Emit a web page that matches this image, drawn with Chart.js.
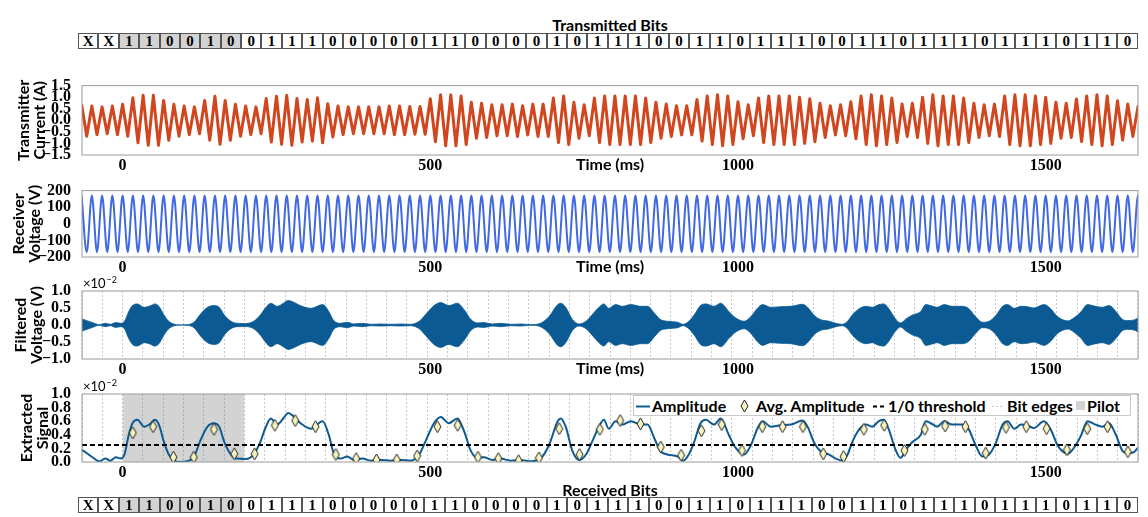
<!DOCTYPE html>
<html>
<head>
<meta charset="utf-8">
<title>Transmitted and received bits</title>
<script src="https://cdn.jsdelivr.net/npm/chart.js@4.4.1/dist/chart.umd.min.js"></script>
<style>
  body { margin: 0; background: #fff; }
  #page { position: relative; width: 1148px; height: 517px; overflow: hidden; }
  .title { position: absolute; left: 82px; width: 1056px; text-align: center;
           font: bold 16px Lato, sans-serif; line-height: 16px; color: #000; }
  table.bits { position: absolute; left: 78px; width: 1060px; height: 16px;
               border-collapse: separate; border-spacing: 0; table-layout: fixed; }
  table.bits td { border: 1px solid #555; padding: 0; text-align: center;
                  font: bold 15px "Liberation Serif", serif; line-height: 14px; color: #000; }
  table.bits td.pilot { background: #d3d3d3; }
  canvas { position: absolute; left: 0; }
  #legend { position: absolute; left: 633px; top: 395px; width: 496px; height: 19px;
            border: 1px solid #c8c8c8; background: #fff; font: bold 16px Lato, sans-serif; }
  #legend span, #legend svg { position: absolute; }
  #legend span { top: 1px; line-height: 17px; }
</style>
</head>
<body>
<div id="page">
  <div class="title" style="top:17px">Transmitted Bits</div>
  <table class="bits" id="tx-bits" style="top:33px"></table>

  <canvas id="chart-current" width="1148" height="104" style="top:73px"></canvas>
  <canvas id="chart-receiver" width="1148" height="101" style="top:178px"></canvas>
  <canvas id="chart-filtered" width="1148" height="107" style="top:274px"></canvas>
  <canvas id="chart-extracted" width="1148" height="107" style="top:377px"></canvas>

  <div id="legend">
    <svg style="left:2px;top:9px" width="14" height="3"><line x1="0" y1="1.5" x2="14" y2="1.5" stroke="#0b5a93" stroke-width="2"/></svg>
    <span style="left:18px">Amplitude</span>
    <svg style="left:106px;top:3px" width="9" height="14"><polygon points="4.5,1 8,7 4.5,13 1,7" fill="#f7f3bd" stroke="#222" stroke-width="1"/></svg>
    <span style="left:122px">Avg. Amplitude</span>
    <svg style="left:239px;top:9px" width="12" height="3"><line x1="0" y1="1.5" x2="12" y2="1.5" stroke="#000" stroke-width="2" stroke-dasharray="4,3"/></svg>
    <span style="left:254px">1/0 threshold</span>
    <svg style="left:358px;top:9px" width="12" height="3"><line x1="0" y1="1.5" x2="12" y2="1.5" stroke="#c8c8c8" stroke-width="1" stroke-dasharray="2,2"/></svg>
    <span style="left:373px">Bit edges</span>
    <svg style="left:442px;top:5px" width="9" height="9"><rect x="0" y="0" width="9" height="9" fill="#d3d3d3"/></svg>
    <span style="left:453px">Pilot</span>
  </div>

  <div class="title" style="top:482px">Received Bits</div>
  <table class="bits" id="rx-bits" style="top:497px"></table>
</div>

<script>
// time axis (ms) and bit timing
const xMin = -66;
const xMax = 1650;
const bitMs = 33;
const xTicks = [0, 500, 1000, 1500];

// bit rows: two unknown bits, 6-bit pilot, then data
const txBits = ['X','X','1','1','0','0','1','0',
  '0','1','1','1','0','0','0','0','0','1','1','0','0','0','0','1','0','1','1','1','0','0','1','1',
  '0','1','1','1','0','0','1','1','0','1','1','1','0','1','1','1','0','1','1','0'];
const rxBits = ['X','X','1','1','0','0','1','0',
  '0','1','1','1','0','0','0','0','0','1','1','0','0','0','0','1','0','1','1','1','0','0','1','1',
  '0','1','1','1','0','0','1','1','0','1','1','1','0','1','1','1','0','1','1','0'];
const pilotFrom = 2;
const pilotLen = 6;

// transmitter current: peak height of each 60 Hz cycle (A), first peak at the left edge
const mainsHz = 60;
const txFirstPeak = -66.67;
const txPeakAmp = [
  0.69, 0.62, 0.58, 0.62, 0.69, 0.97, 1.08, 1.08, 0.86, 0.69,
  0.62, 0.58, 0.86, 1.04, 0.86, 0.69, 0.62, 0.58, 0.94, 1.04,
  1.08, 0.94, 0.90, 0.97, 0.72, 0.62, 0.58, 0.58, 0.58, 0.58,
  0.62, 0.62, 0.60, 0.60, 0.93, 1.10, 1.10, 1.05, 0.78, 0.74,
  0.67, 0.67, 0.70, 0.63, 0.70, 0.70, 0.96, 1.05, 0.78, 0.67,
  0.96, 1.05, 1.05, 1.05, 1.05, 0.96, 0.78, 0.70, 0.63, 0.63,
  0.90, 1.05, 1.10, 1.05, 0.80, 0.67, 0.96, 1.05, 1.05, 1.05,
  1.00, 0.93, 0.74, 0.63, 0.67, 0.80, 1.05, 1.10, 1.05, 0.96,
  0.70, 0.74, 1.00, 1.10, 1.05, 1.05, 0.96, 0.74, 0.67, 0.70,
  1.05, 1.10, 1.10, 1.05, 1.00, 0.78, 0.74, 0.92, 1.05, 1.10,
  1.05, 0.85, 0.70, 0.60
];

// receiver voltage peak (V)
const rxPeakVolt = 170;

// extracted amplitude (x1e-2), read at turning points of the curve
const ampTimes = [
  -66, -49, -38, -28, -20, -11, -3, 3, 10, 16,
  24, 35, 46, 52, 59, 67, 75, 83, 92, 105,
  116, 127, 138, 148, 157, 165, 176, 186, 200, 213,
  224, 232, 241, 251, 262, 269, 278, 289, 306, 325,
  335, 343, 354, 365, 376, 390, 403, 419, 436, 452,
  468, 482, 492, 506, 517, 530, 544, 555, 566, 577,
  587, 601, 614, 631, 647, 663, 679, 693, 707, 712,
  720, 731, 742, 753, 763, 774, 782, 790, 801, 812,
  826, 842, 853, 864, 874, 885, 902, 911, 920, 929,
  939, 948, 961, 972, 985, 996, 1010, 1021, 1032, 1040,
  1053, 1069, 1086, 1105, 1113, 1124, 1134, 1148, 1159, 1170,
  1178, 1186, 1197, 1208, 1218, 1229, 1237, 1245, 1256, 1264,
  1273, 1283, 1297, 1305, 1313, 1324, 1335, 1348, 1365, 1375,
  1386, 1397, 1408, 1419, 1430, 1438, 1449, 1460, 1470, 1481,
  1497, 1508, 1519, 1527, 1536, 1546, 1557, 1568, 1581, 1592,
  1603, 1614, 1625, 1633, 1644, 1650
];
const ampValues = [
  0.18, 0.07, 0.01, 0.05, 0.02, 0.07, 0.05, 0.11, 0.40, 0.57,
  0.62, 0.52, 0.57, 0.62, 0.55, 0.30, 0.11, 0.03, 0.00, 0.01,
  0.08, 0.33, 0.52, 0.57, 0.52, 0.30, 0.11, 0.05, 0.045, 0.11,
  0.30, 0.50, 0.64, 0.55, 0.65, 0.72, 0.67, 0.57, 0.49, 0.60,
  0.40, 0.13, 0.05, 0.08, 0.03, 0.05, 0.02, 0.03, 0.02, 0.03,
  0.02, 0.11, 0.30, 0.57, 0.66, 0.57, 0.64, 0.45, 0.16, 0.06,
  0.07, 0.03, 0.05, 0.02, 0.03, 0.01, 0.05, 0.25, 0.60, 0.64,
  0.52, 0.16, 0.03, 0.11, 0.30, 0.52, 0.62, 0.49, 0.60, 0.55,
  0.60, 0.55, 0.55, 0.35, 0.16, 0.11, 0.08, 0.02, 0.11, 0.30,
  0.57, 0.62, 0.55, 0.64, 0.40, 0.21, 0.11, 0.25, 0.50, 0.60,
  0.52, 0.54, 0.55, 0.61, 0.52, 0.28, 0.16, 0.11, 0.05, 0.02,
  0.11, 0.30, 0.48, 0.55, 0.52, 0.60, 0.62, 0.48, 0.18, 0.06,
  0.18, 0.29, 0.40, 0.60, 0.57, 0.52, 0.60, 0.55, 0.55, 0.48,
  0.25, 0.08, 0.11, 0.28, 0.55, 0.60, 0.49, 0.55, 0.54, 0.50,
  0.60, 0.48, 0.25, 0.16, 0.12, 0.21, 0.38, 0.60, 0.55, 0.52,
  0.57, 0.40, 0.16, 0.13, 0.15, 0.21
];

// average amplitude per bit, bit 0 starts at t = 0
const avgAmp = [
  0.43, 0.52, 0.07, 0.07, 0.48, 0.12, 0.12, 0.54, 0.61, 0.52,
  0.11, 0.05, 0.03, 0.03, 0.09, 0.52, 0.54, 0.07, 0.05, 0.02,
  0.06, 0.49, 0.11, 0.48, 0.61, 0.56, 0.22, 0.10, 0.46, 0.55,
  0.17, 0.52, 0.52, 0.52, 0.12, 0.08, 0.48, 0.54, 0.17, 0.48,
  0.53, 0.52, 0.13, 0.51, 0.52, 0.49, 0.18, 0.49, 0.52, 0.15
];
const threshold = 0.25;

const tickFont = { family: 'Liberation Serif', size: 16, weight: 'bold' };
const titleFont = { family: 'Lato', size: 16, weight: 'bold', lineHeight: 1 };
const blue = '#0b5a93';

function buildBits(id, bits) {
  const row = document.createElement('tr');
  bits.forEach(function(b, i) {
    const td = document.createElement('td');
    td.textContent = b;
    if (i >= pilotFrom && i < pilotFrom + pilotLen) td.className = 'pilot';
    row.appendChild(td);
  });
  document.getElementById(id).appendChild(row);
}
buildBits('tx-bits', txBits);
buildBits('rx-bits', rxBits);

// derived series
const halfCycle = 1000 / mainsHz / 2;
const currentPts = [];
txPeakAmp.forEach(function(a, k) {
  const t = txFirstPeak + 2 * k * halfCycle;
  currentPts.push({ x: t, y: a });
  currentPts.push({ x: t + halfCycle, y: -a });
});

const receiverPts = [];
for (let i = 0; txFirstPeak + i * halfCycle <= xMax + halfCycle; i++) {
  receiverPts.push({ x: txFirstPeak + i * halfCycle, y: i % 2 ? -rxPeakVolt : rxPeakVolt });
}

const ampPts = ampTimes.map(function(t, i) { return { x: t, y: ampValues[i] }; });
const ampNegPts = ampTimes.map(function(t, i) { return { x: t, y: -ampValues[i] }; });
const avgPts = avgAmp.map(function(v, j) { return { x: (j + 0.5) * bitMs, y: v }; });
const bitEdges = txBits.map(function(b, i) { return xMin + i * bitMs; }).concat([xMax]);
const pilotStart = 0;
const pilotEnd = pilotLen * bitMs;

function minusSign(s) { return s.replace('-', '\u2212'); }

const framePlugin = {
  id: 'frame',
  afterDraw(chart) {
    const { ctx, chartArea: a } = chart;
    ctx.save();
    ctx.strokeStyle = '#9a9a9a';
    ctx.lineWidth = 1;
    ctx.strokeRect(a.left, a.top, a.right - a.left, a.bottom - a.top);
    ctx.restore();
  }
};

const timeLabelPlugin = {
  id: 'timeLabel',
  afterDraw(chart) {
    const { ctx, chartArea: a } = chart;
    ctx.save();
    ctx.font = 'bold 16px Lato';
    ctx.fillStyle = '#000';
    ctx.textAlign = 'center';
    ctx.textBaseline = 'top';
    ctx.fillText('Time (ms)', (a.left + a.right) / 2, a.bottom + 2);
    ctx.restore();
  }
};

const exponentPlugin = {
  id: 'exponent',
  afterDraw(chart) {
    const { ctx, chartArea: a } = chart;
    ctx.save();
    ctx.fillStyle = '#000';
    ctx.font = '13px Lato';
    ctx.fillText('\u00d710', a.left + 1, a.top - 3);
    const w = ctx.measureText('\u00d710').width;
    ctx.font = '9px Lato';
    ctx.fillText('\u22122', a.left + 2 + w, a.top - 8);
    ctx.restore();
  }
};

function timeAxis() {
  return {
    type: 'linear', min: xMin, max: xMax,
    afterBuildTicks: function(s) { s.ticks = xTicks.map(function(v) { return { value: v }; }); },
    afterFit: function(s) { s.height = 22; },
    grid: { display: false, drawTicks: false },
    border: { display: false },
    ticks: { padding: 1, color: '#000', font: tickFont, maxRotation: 0, autoSkip: false,
             callback: function(v) { return String(v); } }
  };
}

function edgeAxis() {
  return {
    type: 'linear', min: xMin, max: xMax, position: 'bottom',
    afterBuildTicks: function(s) { s.ticks = bitEdges.map(function(v) { return { value: v }; }); },
    afterFit: function(s) { s.height = 0; },
    grid: { color: '#c8c8c8', lineWidth: 1, drawTicks: false },
    border: { display: false, dash: [2, 2] },
    ticks: { display: false }
  };
}

function valueAxis(min, max, step, title, titleLeft, decimals) {
  return {
    min: min, max: max,
    afterFit: function(s) { s.width = 82; },
    grid: { display: false },
    border: { display: false },
    ticks: { stepSize: step, autoSkip: false, padding: 3, color: '#000', font: tickFont,
             callback: function(v) { return minusSign(v.toFixed(decimals)); } },
    title: { display: true, text: title, color: '#000', font: titleFont,
             padding: { top: titleLeft, bottom: 0 } }
  };
}

function chartOptions(yAxis, withEdges, padTop) {
  const scales = { x: timeAxis(), y: yAxis };
  if (withEdges) scales.edges = edgeAxis();
  return {
    responsive: false,
    animation: false,
    events: [],
    layout: { padding: { top: padTop, right: 10, left: 0, bottom: 0 } },
    plugins: { legend: { display: false }, tooltip: { enabled: false } },
    scales: scales
  };
}

// Transmitter current
new Chart(document.getElementById('chart-current'), {
  type: 'line',
  data: {
    datasets: [{
      label: 'Transmitter current',
      data: currentPts,
      borderColor: '#d1461f',
      borderWidth: 3,
      borderJoinStyle: 'round',
      pointRadius: 0,
      tension: 0
    }]
  },
  options: chartOptions(valueAxis(-1.5, 1.5, 0.5, ['Transmitter', 'Current (A)'], 16, 1), false, 10),
  plugins: [framePlugin, timeLabelPlugin]
});

// Receiver voltage
new Chart(document.getElementById('chart-receiver'), {
  type: 'line',
  data: {
    datasets: [{
      label: 'Receiver voltage',
      data: receiverPts,
      borderColor: '#4169e1',
      borderWidth: 2,
      pointRadius: 0,
      cubicInterpolationMode: 'monotone'
    }]
  },
  options: chartOptions(valueAxis(-200, 200, 100, ['Receiver', 'Voltage (V)'], 11, 0), false, 10),
  plugins: [framePlugin, timeLabelPlugin]
});

// Filtered voltage (envelope band)
new Chart(document.getElementById('chart-filtered'), {
  type: 'line',
  data: {
    datasets: [{
      label: 'Filtered low',
      data: ampNegPts,
      borderColor: blue,
      borderWidth: 0.8,
      pointRadius: 0,
      cubicInterpolationMode: 'monotone'
    }, {
      label: 'Filtered high',
      data: ampPts,
      borderColor: blue,
      backgroundColor: blue,
      borderWidth: 0.8,
      pointRadius: 0,
      cubicInterpolationMode: 'monotone',
      fill: 0
    }]
  },
  options: chartOptions(valueAxis(-1, 1, 0.5, ['Filtered', 'Voltage (V)'], 13, 1), true, 17),
  plugins: [framePlugin, timeLabelPlugin, exponentPlugin]
});

// Extracted signal
const diamond = document.createElement('canvas');
diamond.width = 9;
diamond.height = 14;
(function() {
  const g = diamond.getContext('2d');
  g.beginPath();
  g.moveTo(4.5, 1); g.lineTo(8, 7); g.lineTo(4.5, 13); g.lineTo(1, 7);
  g.closePath();
  g.fillStyle = '#f7f3bd';
  g.fill();
  g.strokeStyle = '#222';
  g.lineWidth = 1;
  g.stroke();
})();

new Chart(document.getElementById('chart-extracted'), {
  type: 'line',
  data: {
    datasets: [{
      label: 'Avg. Amplitude',
      data: avgPts,
      showLine: false,
      pointStyle: diamond,
      pointRadius: 6,
      order: 0
    }, {
      label: '1/0 threshold',
      data: [{ x: xMin, y: threshold }, { x: xMax, y: threshold }],
      borderColor: '#000',
      borderWidth: 2,
      borderDash: [5, 3],
      pointRadius: 0,
      order: 1
    }, {
      label: 'Amplitude',
      data: ampPts,
      borderColor: blue,
      borderWidth: 2,
      pointRadius: 0,
      cubicInterpolationMode: 'monotone',
      order: 2
    }, {
      label: 'Pilot',
      data: [{ x: pilotStart, y: 1 }, { x: pilotEnd, y: 1 }],
      borderWidth: 0,
      pointRadius: 0,
      backgroundColor: 'rgba(128,128,128,0.35)',
      fill: 'start',
      order: 3
    }]
  },
  options: chartOptions(valueAxis(0, 1, 0.2, ['Extracted', 'Signal'], 19, 1), true, 17),
  plugins: [framePlugin, exponentPlugin]
});
</script>
</body>
</html>
